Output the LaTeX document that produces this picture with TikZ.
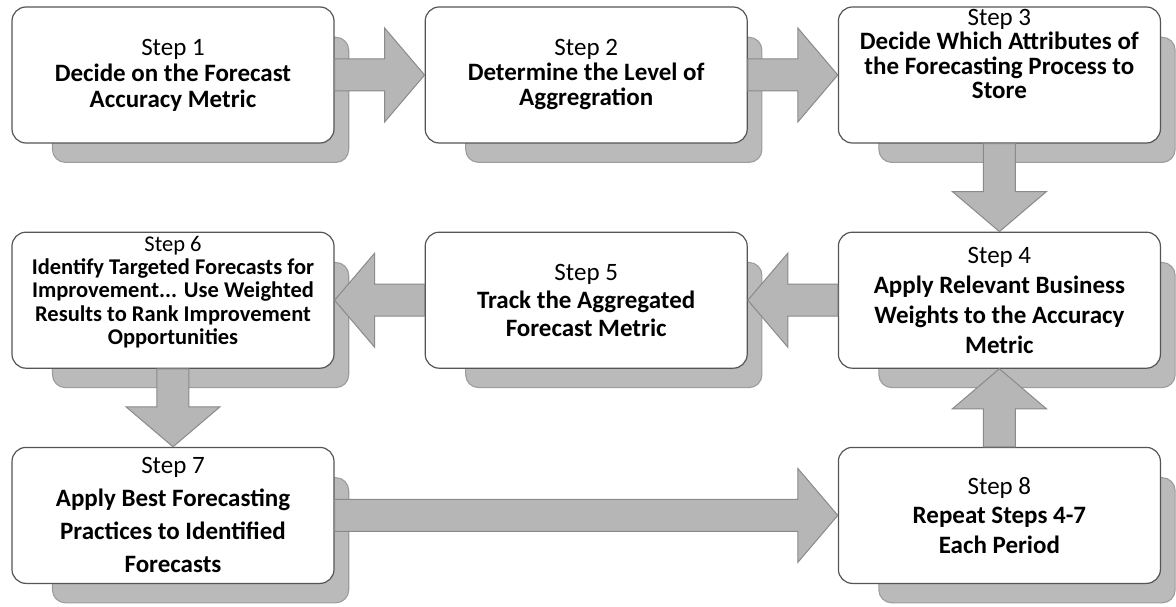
\documentclass[tikz,border=0pt]{standalone}
\usepackage{fontspec}
\setmainfont{Carlito}
\usetikzlibrary{positioning,calc,shadows}
\definecolor{boxline}{HTML}{555555}
\definecolor{arrowgrey}{HTML}{B6B6B6}
\definecolor{arrowline}{HTML}{8A8A8A}
\definecolor{shadowgrey}{HTML}{BABABA}
\definecolor{shadowline}{HTML}{9C9C9C}
\begin{document}
\begin{tikzpicture}[node distance=90pt]
      \tikzstyle{stepbox}=[draw=boxline, fill=white, line width=1.2pt, rounded corners=14pt,
        minimum width=322pt, minimum height=136pt, align=center, inner ysep=0pt,
        font=\fontsize{25}{26}\selectfont\bfseries,
        drop shadow={shadow xshift=30pt, shadow yshift=-27pt, shadow scale=0.92,
          fill=shadowgrey, draw=shadowline, opacity=1}]
      \tikzstyle{blockarrow}=[fill=arrowgrey, draw=arrowline, line width=1pt,
        to path={($(\tikztostart)!16pt!90:(\tikztotarget)$)
          -- ($(\tikztotarget)!40pt!(\tikztostart)!16pt!90:(\tikztotarget)$)
          -- ($(\tikztotarget)!40pt!(\tikztostart)!47pt!90:(\tikztotarget)$)
          -- (\tikztotarget)
          -- ($(\tikztotarget)!40pt!(\tikztostart)!47pt!-90:(\tikztotarget)$)
          -- ($(\tikztotarget)!40pt!(\tikztostart)!16pt!-90:(\tikztotarget)$)
          -- ($(\tikztostart)!16pt!-90:(\tikztotarget)$) -- cycle}]
      \useasboundingbox (-173pt,75pt) rectangle (1003pt,-532pt);
      % top row
      \node[stepbox] (b1) at (0,0) {{\mdseries Step 1}\\Decide on the Forecast\\Accuracy Metric};
      \node[stepbox, right=of b1, font=\fontsize{25}{25}\selectfont\bfseries] (b2)
        {{\mdseries Step 2}\\Determine the Level of\\Aggregration};
      \node[stepbox, right=of b2, font=\fontsize{25}{24.4}\selectfont\bfseries] (b3)
        {{\mdseries Step 3}\\Decide Which Attributes of\\the Forecasting Process to\\Store\rule[-42pt]{0pt}{0pt}};
      % middle row
      \node[stepbox, below=88pt of b3, font=\fontsize{25}{30}\selectfont\bfseries] (b4)
        {{\mdseries Step 4}\\Apply Relevant Business\\Weights to the Accuracy\\Metric};
      \node[stepbox, left=of b4, font=\fontsize{25}{28}\selectfont\bfseries] (b5)
        {{\mdseries Step 5}\\Track the Aggregated\\Forecast Metric};
      \node[stepbox, left=of b5, font=\fontsize{22.5}{23.3}\selectfont\bfseries] (b6)
        {{\mdseries Step 6}\\Identify Targeted Forecasts for\\Improvement... Use Weighted\\Results to Rank Improvement\\Opportunities\rule[-20pt]{0pt}{0pt}};
      % bottom row
      \node[stepbox, below=78pt of b6, font=\fontsize{25}{33}\selectfont\bfseries] (b7)
        {{\mdseries Step 7}\\Apply Best Forecasting\\Practices to Identified\\Forecasts};
      \node[stepbox, below=78pt of b4, font=\fontsize{25}{29.5}\selectfont\bfseries] (b8)
        {{\mdseries Step 8}\\Repeat Steps 4-7\\Each Period};
      % block arrows
      \draw[blockarrow] (b1.east) to (b2.west);
      \draw[blockarrow] (b2.east) to (b3.west);
      \draw[blockarrow] (b3.south) to (b4.north);
      \draw[blockarrow] (b4.west) to (b5.east);
      \draw[blockarrow] (b5.west) to (b6.east);
      \draw[blockarrow] (b6.south) to (b7.north);
      \draw[blockarrow] (b7.east) to (b8.west);
      \draw[blockarrow] (b8.north) to (b4.south);
\end{tikzpicture}
\end{document}
